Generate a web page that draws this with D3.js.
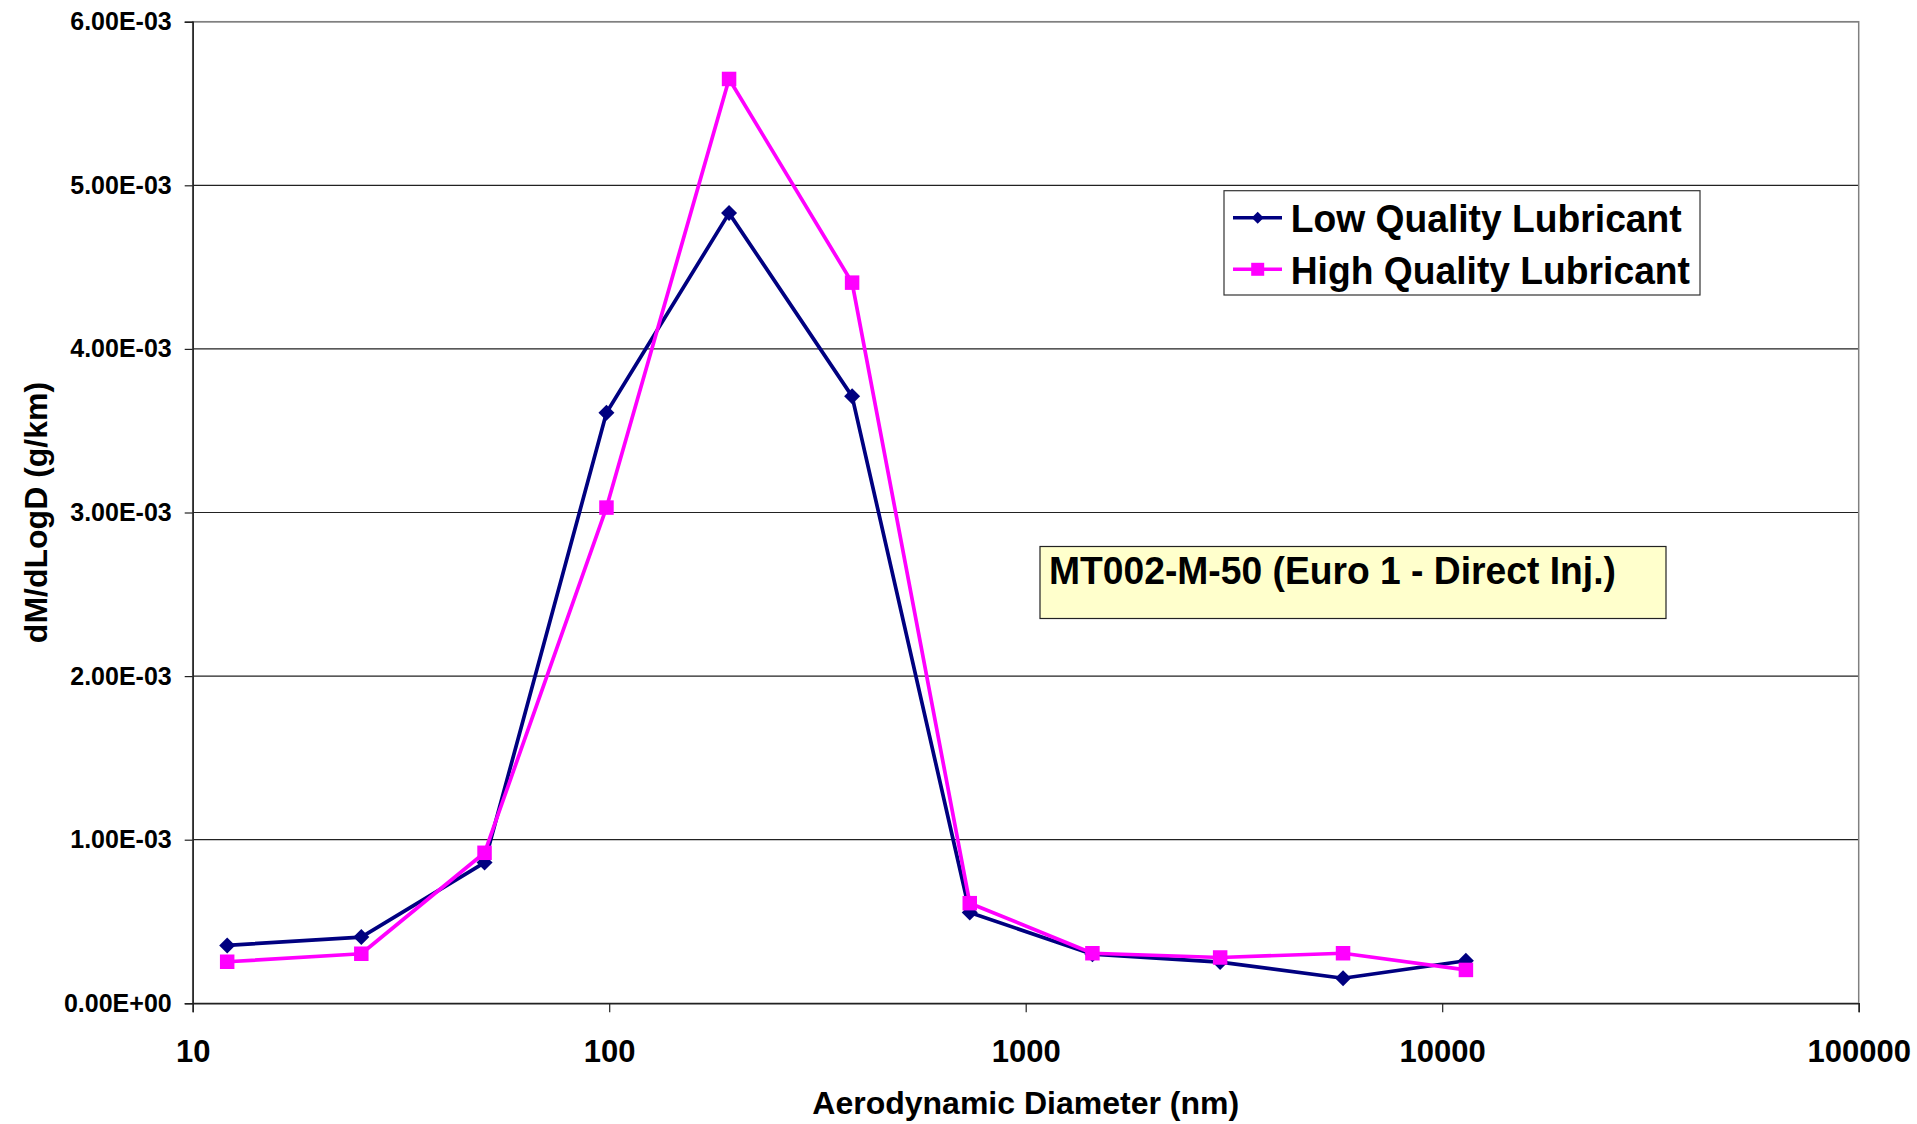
<!DOCTYPE html>
<html>
<head>
<meta charset="utf-8">
<script src="https://cdn.jsdelivr.net/npm/d3@7"></script>
<style>
  body { margin: 0; background: #fff; }
  text { font-family: "Liberation Sans", Arial, sans-serif; font-weight: bold; fill: #000; }
</style>
</head>
<body>
<svg id="chart" width="1917" height="1124"></svg>
<script>
// Aerodynamic diameter (nm) of each size class
const diameters = [12.1, 25.4, 50.2, 98.5, 194, 383, 734, 1446, 2930, 5780, 11400];
// dM/dLogD (g/km) per size class
const lowQuality  = [0.354e-3, 0.405e-3, 0.86e-3, 3.61e-3, 4.83e-3, 3.71e-3, 0.555e-3, 0.30e-3, 0.252e-3, 0.153e-3, 0.26e-3];
const highQuality = [0.254e-3, 0.303e-3, 0.92e-3, 3.03e-3, 5.65e-3, 4.405e-3, 0.612e-3, 0.306e-3, 0.28e-3, 0.306e-3, 0.204e-3];
const seriesNames = ["Low Quality Lubricant", "High Quality Lubricant"];
const xTicks = [10, 100, 1000, 10000, 100000];
const yTicks = [0, 1e-3, 2e-3, 3e-3, 4e-3, 5e-3, 6e-3];
const noteText = "MT002-M-50 (Euro 1 - Direct Inj.)";

const svg = d3.select("#chart");
svg.append("rect").attr("width", 1917).attr("height", 1124).attr("fill", "#fff");

const plot = { left: 192.7, right: 1858.7, top: 21.7, bottom: 1003.3 };

const x = d3.scaleLog().domain([10, 100000]).range([plot.left, plot.right]);
const y = d3.scaleLinear().domain([0, 6e-3]).range([plot.bottom, plot.top]);

// Excel-style scientific notation: 1.00E-03
function sci(v) {
  if (v === 0) return "0.00E+00";
  const [m, e] = v.toExponential(2).split("e");
  const n = parseInt(e, 10);
  return m + "E" + (n < 0 ? "-" : "+") + String(Math.abs(n)).padStart(2, "0");
}

// horizontal gridlines
svg.append("g").selectAll("line")
  .data(yTicks.filter(d => d > 0))
  .join("line")
  .attr("x1", plot.left).attr("x2", plot.right)
  .attr("y1", d => y(d)).attr("y2", d => y(d))
  .attr("stroke", "#222").attr("stroke-width", 1.2);

// plot area frame
svg.append("rect")
  .attr("x", plot.left).attr("y", plot.top)
  .attr("width", plot.right - plot.left).attr("height", plot.bottom - plot.top)
  .attr("fill", "none").attr("stroke", "#808080").attr("stroke-width", 1.5);

// y axis
const yAxis = svg.append("g")
  .attr("transform", `translate(${plot.left},0)`)
  .call(d3.axisLeft(y).tickValues(yTicks).tickFormat(sci).tickSize(8).tickPadding(13));
yAxis.select(".domain").attr("stroke", "#222").attr("stroke-width", 1.5);
yAxis.selectAll(".tick line").attr("stroke", "#222").attr("stroke-width", 1.2);
yAxis.selectAll(".tick text").style("font-size", "25px").attr("fill", "#000");

// x axis
const xAxis = svg.append("g")
  .attr("transform", `translate(0,${plot.bottom})`)
  .call(d3.axisBottom(x).tickValues(xTicks).tickFormat(d3.format("d")).tickSize(9).tickPadding(9));
xAxis.select(".domain").attr("stroke", "#222").attr("stroke-width", 1.5);
xAxis.selectAll(".tick line").attr("stroke", "#222").attr("stroke-width", 1.2);
xAxis.selectAll(".tick text").style("font-size", "31px").attr("fill", "#000")
  .attr("dy", null).attr("y", 58.5);

// axis titles
svg.append("text")
  .attr("x", (plot.left + plot.right) / 2).attr("y", 1114)
  .attr("text-anchor", "middle").style("font-size", "32px")
  .text("Aerodynamic Diameter (nm)");
svg.append("text")
  .attr("transform", `translate(46.5,${(plot.top + plot.bottom) / 2}) rotate(-90)`)
  .attr("text-anchor", "middle").style("font-size", "32px")
  .text("dM/dLogD (g/km)");

// marker shapes
const diamond = r => `M0,${-r}L${r},0L0,${r}L${-r},0Z`;
const square = s => `M${-s / 2},${-s / 2}h${s}v${s}h${-s}Z`;

const series = [
  { name: seriesNames[0], values: lowQuality,  color: "#000080", marker: diamond(8), legendMarker: diamond(6) },
  { name: seriesNames[1], values: highQuality, color: "#FF00FF", marker: square(14.5), legendMarker: square(13) }
];

const line = d3.line().x(d => x(d[0])).y(d => y(d[1]));

series.forEach(s => {
  const pts = diameters.map((d, i) => [d, s.values[i]]);
  const g = svg.append("g");
  g.append("path").attr("d", line(pts))
    .attr("fill", "none").attr("stroke", s.color).attr("stroke-width", 3.7)
    .attr("stroke-linejoin", "round");
  g.selectAll("path.m").data(pts).join("path").attr("class", "m")
    .attr("d", s.marker)
    .attr("transform", d => `translate(${x(d[0])},${y(d[1])})`)
    .attr("fill", s.color);
});

// legend
const legend = svg.append("g").attr("transform", "translate(1224,190.7)");
legend.append("rect").attr("width", 476).attr("height", 104.3)
  .attr("fill", "#fff").attr("stroke", "#333").attr("stroke-width", 1.2);
series.forEach((s, i) => {
  const row = legend.append("g").attr("transform", `translate(0,${27 + i * 51.6})`);
  row.append("line").attr("x1", 9).attr("x2", 58).attr("stroke", s.color).attr("stroke-width", 3.5);
  row.append("path").attr("d", s.legendMarker).attr("transform", "translate(33.7,0)").attr("fill", s.color);
  row.append("text").attr("transform", "translate(66.7,14.5) scale(0.955,1)")
    .style("font-size", "39px").text(s.name);
});

// annotation box
const note = svg.append("g").attr("transform", "translate(1040,546.5)");
note.append("rect").attr("width", 626).attr("height", 72)
  .attr("fill", "#FFFFCC").attr("stroke", "#222").attr("stroke-width", 1.2);
note.append("text").attr("transform", "translate(9,37) scale(0.955,1)")
  .style("font-size", "39px").text(noteText);
</script>
</body>
</html>
